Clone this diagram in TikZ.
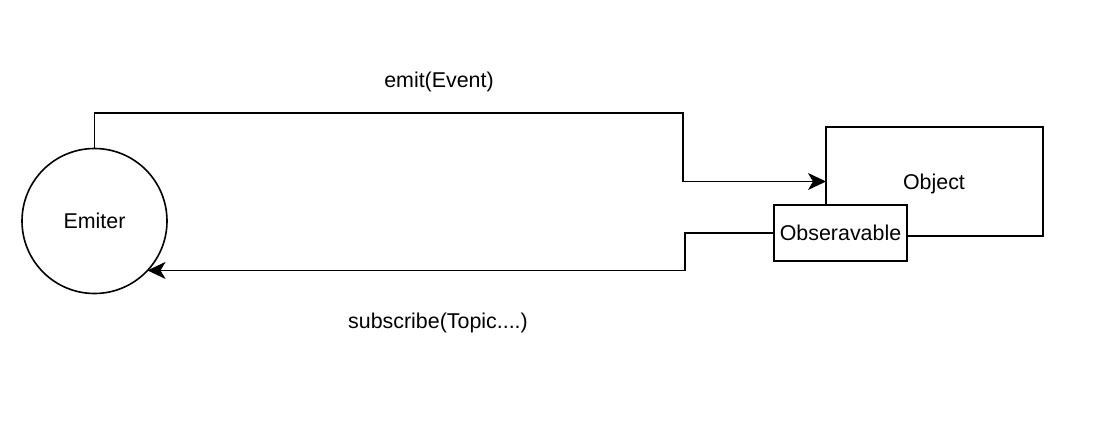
\documentclass[tikz,border=0pt]{standalone}
\usepackage{fontspec}
\setmainfont{Liberation Sans}
\usetikzlibrary{arrows.meta}
\begin{document}
\begin{tikzpicture}[x=1pt,y=-1pt,
  every node/.style={font=\fontsize{21.4}{25}\selectfont, inner sep=0pt, outer sep=0pt},
  line/.style={line width=1.6pt, draw=black},
  conn/.style={line, -{Stealth[length=18pt,width=17pt,inset=5pt]}},
  boxnode/.style={line, rectangle, fill=white}
]
\useasboundingbox[fill=white] (0,0) rectangle (1099,431);
\node[line, circle, minimum size=145pt] (e) at (94.5,221) {Emiter};
\node[line, rectangle, minimum width=217pt, minimum height=109pt] (o) at (934.5,181.5) {};
\node (ot) at (934,184) {Object};
\node[boxnode, minimum width=133pt, minimum height=56pt] (obs) at (840.5,233) {Obseravable};
\node (l1) at (439,82) {emit(Event)};
\node (l2) at (438,323) {subscribe(Topic....)};
\coordinate (t1) at (683,113);
\draw[conn] (e.north) |- (t1) |- (o.west);
\coordinate (a2) at (e.-43.6);
\coordinate (tx) at (685,0);
\coordinate (t2) at (a2 -| tx);
\draw[conn] (obs.west) -| (t2) -- (a2);
\end{tikzpicture}
\end{document}
